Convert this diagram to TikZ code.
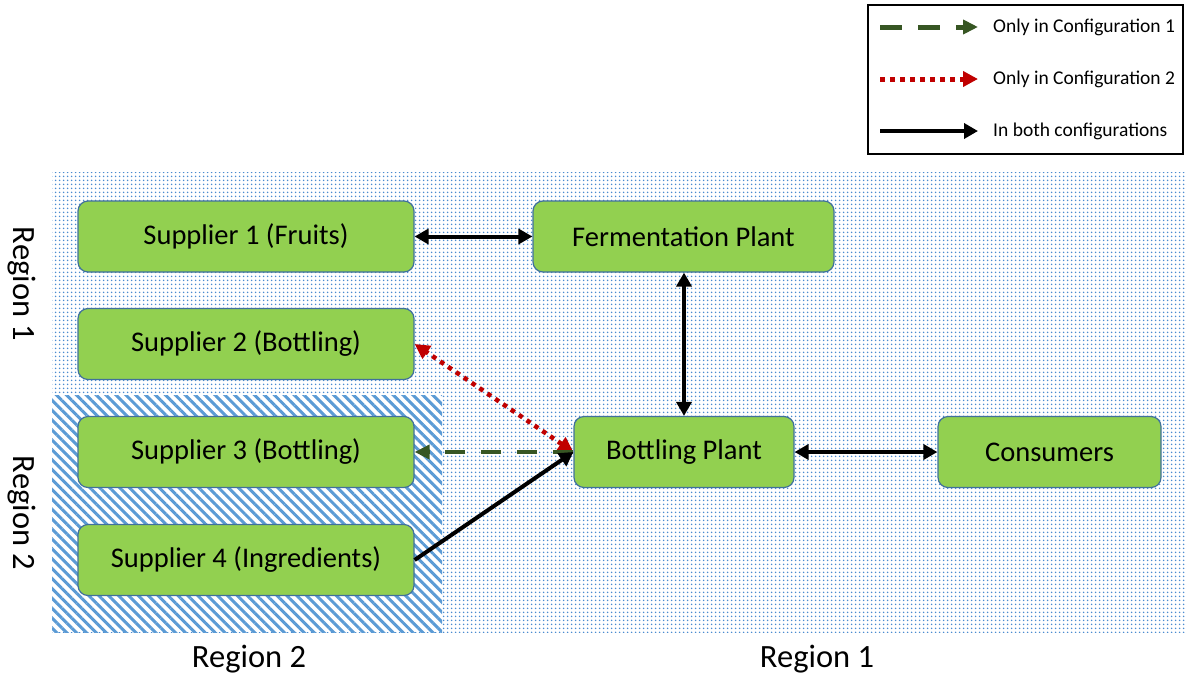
\documentclass[tikz,border=0pt]{standalone}
\usepackage{fontspec}
\setmainfont{Carlito}
\usetikzlibrary{arrows.meta,patterns.meta}
\definecolor{boxfill}{HTML}{92D050}
\definecolor{boxline}{HTML}{41719C}
\definecolor{patblue}{HTML}{5B9BD5}
\definecolor{dotblue}{HTML}{4A8BD0}
\definecolor{cfgone}{HTML}{375623}
\definecolor{cfgtwo}{HTML}{C00000}
\begin{document}
\begin{tikzpicture}[x=1pt,y=-1pt,
  box/.style={draw=boxline, line width=1.2pt, fill=boxfill, rounded corners=10pt,
    inner sep=0pt, minimum height=71pt, font=\fontsize{28.5}{34}\selectfont, text=black},
  reglabel/.style={font=\fontsize{32.5}{38}\selectfont, inner sep=0pt},
  legtext/.style={font=\fontsize{19.5}{23}\selectfont, anchor=west, inner sep=0pt},
  bothlink/.style={line width=4pt, {Triangle[length=14pt,width=15pt]}-{Triangle[length=14pt,width=15pt]}},
  solidlink/.style={line width=4pt, -{Triangle[length=14pt,width=15pt]}},
  onelink/.style={draw=cfgone, line width=4.5pt, dash pattern=on 20pt off 16pt,
    -{Triangle[length=15pt,width=14pt,fill=cfgone]}},
  twolink/.style={draw=cfgtwo, line width=4.5pt, dash pattern=on 4.5pt off 5pt,
    {Triangle[length=15pt,width=15pt,fill=cfgtwo]}-{Triangle[length=15pt,width=15pt,fill=cfgtwo]}},
]
\useasboundingbox (0,0) rectangle (1185,675);
\fill[white] (0,0) rectangle (1185,675);
% region backgrounds
\fill[pattern={Dots[distance=4pt, radius=1.05pt]}, pattern color=dotblue] (52,172) rectangle (1185,632);
\fill[white] (52,395) rectangle (442,632);
\fill[pattern={Lines[angle=-45, distance=7pt, line width=3pt]}, pattern color=patblue] (52,395) rectangle (442,632);

% region labels
\node[reglabel, rotate=-90] (r1side) at (22,284) {Region 1};
\node[reglabel, rotate=-90] (r2side) at (22,513) {Region 2};
\node[reglabel] (r2bot) at (249,659) {Region 2};
\node[reglabel] (r1bot) at (817,659) {Region 1};

% boxes
\node[box, minimum width=336pt] (s1) at (246,236.5) {Supplier 1 (Fruits)};
\node[box, minimum width=336pt] (s2) at (246,344) {Supplier 2 (Bottling)};
\node[box, minimum width=336pt] (s3) at (246,452) {Supplier 3 (Bottling)};
\node[box, minimum width=336pt] (s4) at (246,560) {Supplier 4 (Ingredients)};
\node[box, minimum width=301pt] (fp) at (683.5,236.5) {Fermentation Plant};
\node[box, minimum width=220pt] (bp) at (684,452) {Bottling Plant};
\node[box, minimum width=223pt] (cons) at (1049.5,452) {Consumers};

% connectors
\draw[bothlink] (s1.east) -- (fp.west);
\draw[bothlink] (fp.south -| bp.north) -- (bp.north);
\draw[bothlink] (bp.east) -- (cons.west);
\draw[twolink] (bp.west) -- (s2.east);
\draw[onelink] (bp.west) -- (s3.east);
\draw[solidlink] (s4.east) -- (bp.west);

% legend
\node[draw=black, line width=1.5pt, fill=white, minimum width=315pt, minimum height=149pt, inner sep=0pt] (legend) at (1025.5,79.5) {};
\coordinate (l1a) at (880,27);  \coordinate (l1b) at (978,27);
\coordinate (l2a) at (880,79);  \coordinate (l2b) at (978,79);
\coordinate (l3a) at (880,131); \coordinate (l3b) at (978,131);
\draw[draw=cfgone, line width=5pt, dash pattern=on 22pt off 16pt,
  -{Triangle[length=15pt,width=14pt,fill=cfgone]}] (l1a) -- (l1b);
\draw[draw=cfgtwo, line width=5pt, dash pattern=on 5pt off 5pt,
  -{Triangle[length=15pt,width=15pt,fill=cfgtwo]}] (l2a) -- (l2b);
\draw[solidlink] (l3a) -- (l3b);
\node[legtext] (t1) at (993,27) {Only in Configuration 1};
\node[legtext] (t2) at (993,79) {Only in Configuration 2};
\node[legtext] (t3) at (993,131) {In both configurations};
\end{tikzpicture}
\end{document}
